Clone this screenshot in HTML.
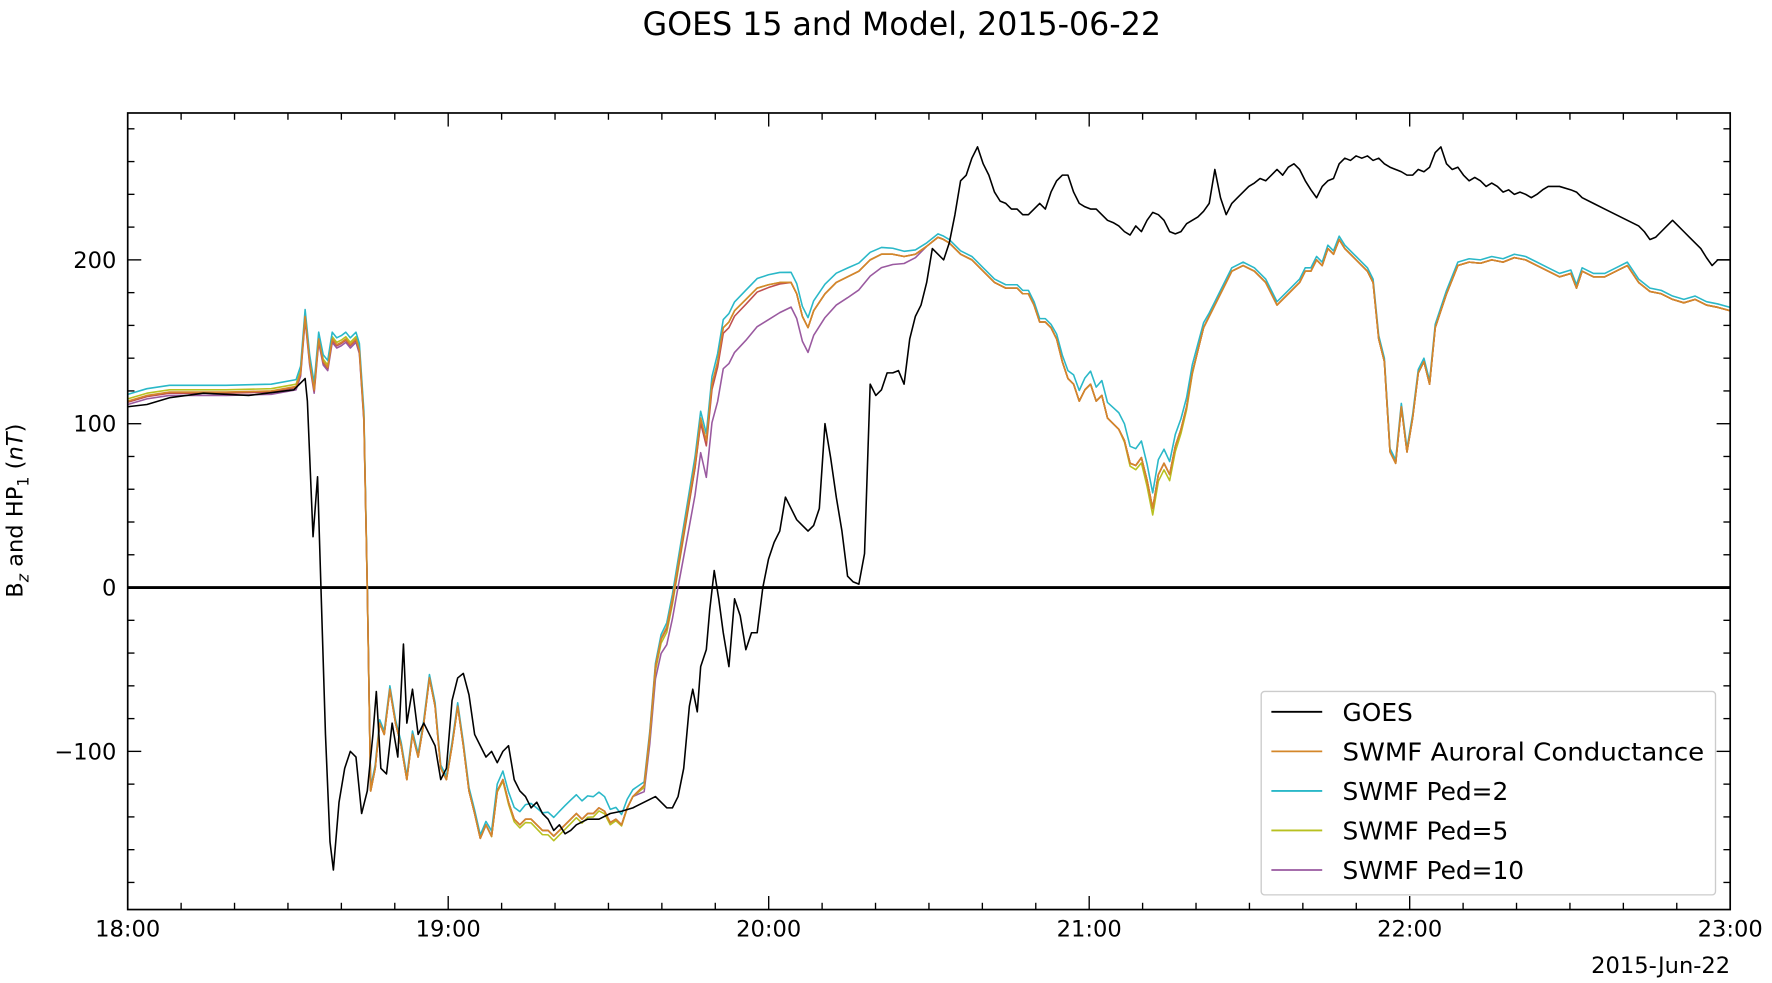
<!DOCTYPE html>
<html><head><meta charset="utf-8"><style>
html,body{margin:0;padding:0;background:#fff;}
svg{display:block;font-family:"DejaVu Sans","Liberation Sans",sans-serif;}
</style></head><body>
<svg id="s" width="1772" height="983" viewBox="0 0 1568 870" preserveAspectRatio="none" xmlns="http://www.w3.org/2000/svg">
<rect width="1568" height="870" fill="#fff"/>
<text x="798" y="31" font-size="28" text-anchor="middle">GOES 15 and Model, 2015-06-22</text>
<g id="ticks" stroke="#000" stroke-width="1.2"></g>
<g id="labels" font-size="20"></g>
<line x1="113" y1="520" x2="1531" y2="520" stroke="#000" stroke-width="2.5"/>
<g id="series" fill="none" stroke-width="1.4" stroke-linejoin="round"></g>
<rect x="113" y="100" width="1418" height="705" fill="none" stroke="#000" stroke-width="1.5"/>
<text transform="translate(20,452) rotate(-90)" font-size="20" text-anchor="middle">B<tspan font-size="14" dy="5" font-style="italic">z</tspan><tspan dy="-5"> and HP</tspan><tspan font-size="14" dy="5">1</tspan><tspan dy="-5"> (</tspan><tspan font-style="italic">nT</tspan>)</text>
<g>
<rect x="1116" y="612" width="402" height="180" fill="#fff" stroke="#ccc" stroke-width="1.2" rx="3"/>
<g font-size="22">
<line x1="1125" y1="630" x2="1170" y2="630" stroke="#000" stroke-width="1.6"/><text x="1188" y="638">GOES</text>
<line x1="1125" y1="665" x2="1170" y2="665" stroke="#d4872a" stroke-width="1.6"/><text x="1188" y="673" textLength="320" lengthAdjust="spacingAndGlyphs">SWMF Auroral Conductance</text>
<line x1="1125" y1="700" x2="1170" y2="700" stroke="#2ab8c8" stroke-width="1.6"/><text x="1188" y="708">SWMF Ped=2</text>
<line x1="1125" y1="735" x2="1170" y2="735" stroke="#b8c020" stroke-width="1.6"/><text x="1188" y="743">SWMF Ped=5</text>
<line x1="1125" y1="770" x2="1170" y2="770" stroke="#9a5aa0" stroke-width="1.6"/><text x="1188" y="778">SWMF Ped=10</text>
</g></g>
<text x="1531" y="861" font-size="20" text-anchor="end">2015-Jun-22</text>
</svg>
<script>
var NS="http://www.w3.org/2000/svg";
function el(p,t,a,txt){var e=document.createElementNS(NS,t);for(var k in a)e.setAttribute(k,a[k]);if(txt!==undefined)e.textContent=txt;p.appendChild(e);return e;}
var tk=document.getElementById("ticks"),lb=document.getElementById("labels");
var x0=113,x1=1531,y0=100,y1=805,ppH=(x1-x0)/5;
for(var i=0;i<=30;i++){var x=x0+i*ppH/6,L=(i%6==0)?12:6;
el(tk,"line",{x1:x,y1:y1,x2:x,y2:y1-L});el(tk,"line",{x1:x,y1:y0,x2:x,y2:y0+L});
if(i%6==0)el(lb,"text",{x:x,y:829,"text-anchor":"middle"},(18+i/6)+":00");}
function Y(v){return 520-v*1.45;}
for(var v=-180;v<=280;v+=20){var y=Y(v);if(y<y0||y>y1)continue;var L=(v%100==0)?12:6;
el(tk,"line",{x1:x0,y1:y,x2:x0+L,y2:y});el(tk,"line",{x1:x1,y1:y,x2:x1-L,y2:y});
if(v%100==0)el(lb,"text",{x:103,y:y+7,"text-anchor":"end"},v<0?"\u2212"+(-v):""+v);}
var goes=[113,360,130,358,150,352,180,348,220,350,260,345,270,335,272,355,277,475,281,422,284,520,288,650,292,745,295,770,300,710,305,680,310,665,315,670,320,720,325,700,330,650,333,612,337,680,342,685,347,640,352,670,357,570,360,640,365,610,370,650,375,640,380,650,385,660,390,690,395,680,400,620,405,600,410,596,415,615,420,650,425,660,430,670,435,665,440,675,445,665,450,660,455,690,460,700,465,705,470,715,475,710,480,720,485,725,490,735,495,730,500,738,505,735,510,730,520,725,530,725,540,720,550,718,560,715,570,710,580,705,590,715,595,715,600,705,605,680,610,625,613,610,617,630,620,590,625,575,628,540,632,505,636,530,640,560,645,590,650,530,655,545,660,575,665,560,670,560,675,520,680,495,685,480,690,470,695,440,700,450,705,460,710,465,715,470,720,465,725,450,730,375,735,405,740,440,745,470,750,510,755,515,760,517,765,490,768,400,770,340,775,350,780,345,785,330,790,330,795,328,800,340,805,300,810,280,815,270,820,250,825,220,830,225,835,230,840,215,845,190,850,160,855,155,860,140,865,130,870,145,875,155,880,170,885,178,890,180,895,185,900,185,905,190,910,190,915,185,920,180,925,185,930,170,935,160,940,155,945,155,950,170,955,180,960,183,965,185,970,185,975,190,980,195,985,197,990,200,995,205,1000,208,1005,200,1010,205,1015,195,1020,188,1025,190,1030,195,1035,205,1040,207,1045,205,1050,198,1055,195,1060,192,1065,187,1070,180,1075,150,1080,175,1085,190,1090,180,1095,175,1100,170,1105,165,1110,162,1115,158,1120,160,1125,155,1130,150,1135,155,1140,148,1145,145,1150,150,1155,160,1160,168,1165,175,1170,165,1175,160,1180,158,1185,145,1190,140,1195,142,1200,138,1205,140,1210,138,1215,142,1220,140,1225,145,1230,148,1235,150,1240,152,1245,155,1250,155,1255,150,1260,152,1265,148,1270,135,1275,130,1280,145,1285,150,1290,148,1295,155,1300,160,1305,157,1310,160,1315,165,1320,162,1325,165,1330,170,1335,168,1340,172,1345,170,1350,172,1355,175,1360,172,1365,168,1370,165,1380,165,1390,168,1395,170,1400,175,1410,180,1420,185,1430,190,1440,195,1450,200,1455,205,1460,212,1465,210,1470,205,1475,200,1480,195,1485,200,1490,205,1495,210,1500,215,1505,220,1510,228,1515,235,1520,230,1531,230];
var base=[113,355,130,350,150,347,200,347,240,346,262,342,266,330,270,280,274,320,278,345,282,300,286,320,290,325,294,300,298,305,302,303,306,300,310,305,315,300,318,310,322,370,325,520,328,700,332,680,336,640,340,650,345,610,350,640,355,660,360,690,365,650,370,670,375,640,380,600,385,625,390,680,395,690,400,660,405,625,410,660,415,700,420,720,425,742,430,730,435,740,440,700,445,690,450,710,455,725,460,730,465,725,470,725,475,730,480,735,485,735,490,740,495,735,500,730,505,725,510,720,515,725,520,720,525,720,530,715,535,718,540,728,545,725,550,730,555,715,560,705,565,700,570,695,575,650,580,590,585,565,590,555,595,530,600,500,605,470,610,440,615,410,620,370,625,390,630,340,635,320,640,290,645,285,650,275,660,265,670,255,680,252,690,250,700,250,705,260,710,280,715,290,720,275,730,260,740,250,750,245,760,240,770,230,780,225,790,225,800,227,810,225,820,218,830,210,835,212,840,215,850,225,860,230,870,240,880,250,890,255,900,255,905,260,910,260,915,270,920,285,925,285,930,290,935,300,940,320,945,335,950,340,955,355,960,345,965,340,970,355,975,350,980,370,985,375,990,380,995,390,1000,410,1005,412,1010,405,1015,425,1020,450,1025,420,1030,410,1035,420,1040,395,1045,380,1050,360,1055,330,1060,310,1065,290,1070,280,1075,270,1080,260,1090,240,1100,235,1110,240,1120,250,1130,270,1140,260,1150,250,1155,240,1160,240,1165,230,1170,235,1175,220,1180,225,1185,212,1190,220,1195,225,1200,230,1210,240,1215,250,1220,300,1225,320,1230,400,1235,410,1240,360,1245,400,1250,370,1255,330,1260,320,1265,340,1270,290,1280,260,1290,235,1300,232,1310,233,1320,230,1330,232,1340,228,1350,230,1360,235,1370,240,1380,245,1390,242,1395,255,1400,240,1410,245,1420,245,1430,240,1440,235,1450,250,1460,258,1470,260,1480,265,1490,268,1500,265,1510,270,1520,272,1531,275];
function mk(off){var a=[];for(var i=0;i<base.length;i+=2){a.push(base[i]+","+(base[i+1]+off(base[i])).toFixed(1));}return a.join(" ");}
var S=document.getElementById("series");
function bump(x,a,b,h){return (x>a&&x<b)?h*Math.sin(Math.PI*(x-a)/(b-a)):0;}
el(S,"polyline",{points:mk(function(x){return (x<325?3:0)+bump(x,600,820,22)+bump(x,560,700,25);}),stroke:"#9a5aa0"});
el(S,"polyline",{points:mk(function(x){return (x<325?-2:0)+bump(x,430,560,4)+bump(x,990,1060,6)+bump(x,560,640,5);}),stroke:"#b8c020"});
el(S,"polyline",{points:mk(function(x){return (x<325?-6:-3)-bump(x,430,570,14)-bump(x,930,1070,12)-bump(x,580,820,6);}),stroke:"#2ab8c8"});
el(S,"polyline",{points:mk(function(x){return (x<325?1:0)+bump(x,580,700,5);}),stroke:"#c05050"});
el(S,"polyline",{points:mk(function(x){return 0;}),stroke:"#d4872a"});
var g=[];for(var i=0;i<goes.length;i+=2)g.push(goes[i]+","+goes[i+1]);
el(S,"polyline",{points:g.join(" "),stroke:"#000"});
</script>
</body></html>
